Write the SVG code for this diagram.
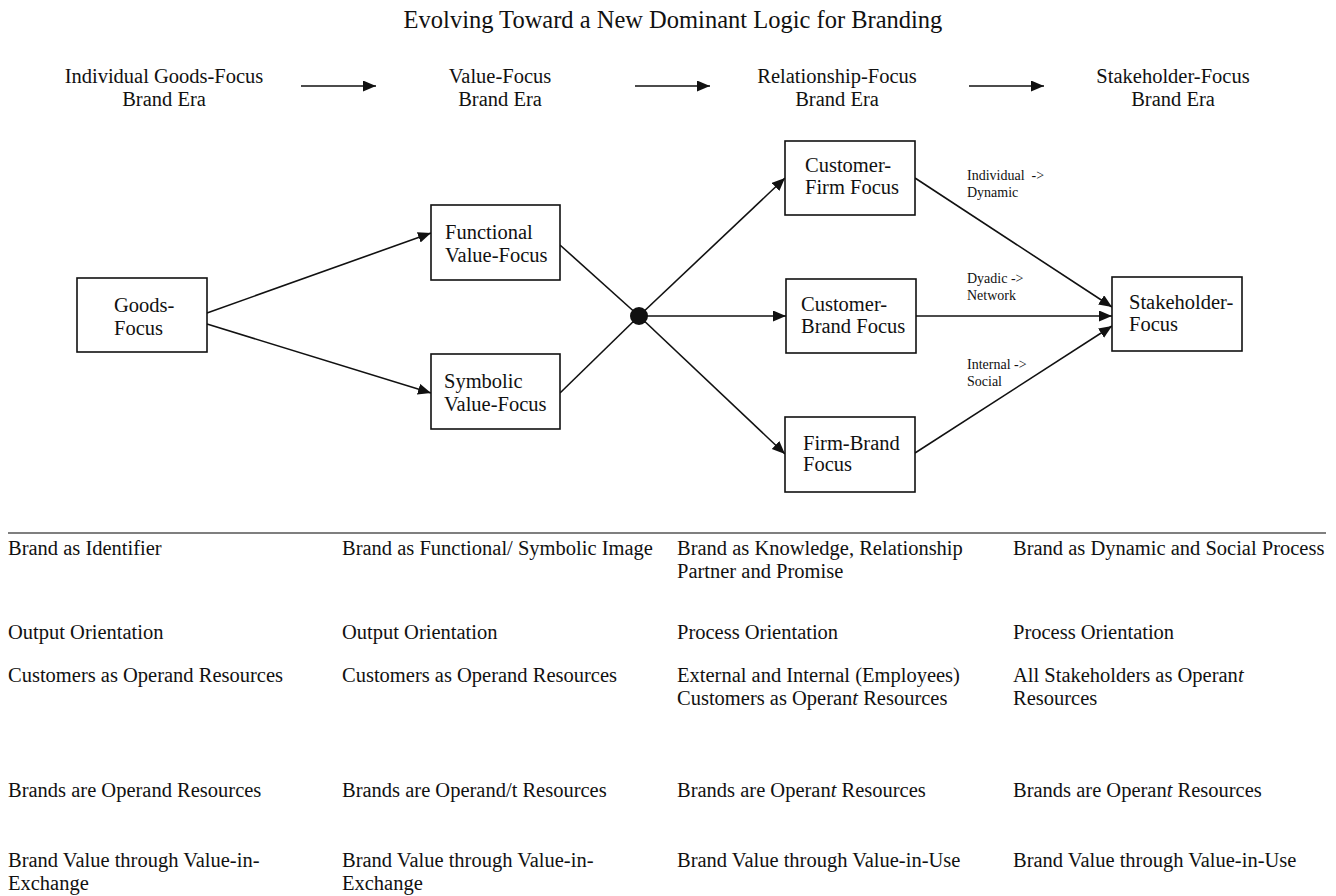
<svg xmlns="http://www.w3.org/2000/svg" width="1336" height="896" viewBox="0 0 1336 896">
<defs>
<style>
text{font-family:"Liberation Serif","Times New Roman",serif;fill:#111;}
.t{font-size:24.5px;}
.n{font-size:20.5px;}
.s{font-size:14px;}
.box{fill:#fff;stroke:#111;stroke-width:1.6;}
.c{stroke:#111;stroke-width:1.6;fill:none;}
.i{font-style:italic;}
</style>
<marker id="ah" markerUnits="userSpaceOnUse" markerWidth="14" markerHeight="12" refX="13" refY="5.5" orient="auto">
<path d="M0,0 L13,5.5 L0,11 Z" fill="#111"/>
</marker>
</defs>
<rect width="1336" height="896" fill="#fff"/>
<text class="t" x="673" y="28" text-anchor="middle">Evolving Toward a New Dominant Logic for Branding</text>

<g id="eras" text-anchor="middle">
<text class="n" x="164" y="83">Individual Goods-Focus</text>
<text class="n" x="164" y="106">Brand Era</text>
<text class="n" x="500" y="83">Value-Focus</text>
<text class="n" x="500" y="106">Brand Era</text>
<text class="n" x="837" y="83">Relationship-Focus</text>
<text class="n" x="837" y="106">Brand Era</text>
<text class="n" x="1173" y="83">Stakeholder-Focus</text>
<text class="n" x="1173" y="106">Brand Era</text>
</g>

<g id="connectors">
<line class="c" x1="301" y1="86" x2="376" y2="86" stroke-width="2" marker-end="url(#ah)"/>
<line class="c" x1="635" y1="86" x2="710" y2="86" stroke-width="2" marker-end="url(#ah)"/>
<line class="c" x1="969" y1="86" x2="1044" y2="86" stroke-width="2" marker-end="url(#ah)"/>
<line class="c" x1="207" y1="313" x2="431" y2="233" marker-end="url(#ah)"/>
<line class="c" x1="207" y1="324" x2="431" y2="393" marker-end="url(#ah)"/>
<line class="c" x1="560" y1="245" x2="639" y2="316"/>
<line class="c" x1="560" y1="393" x2="639" y2="316"/>
<line class="c" x1="639" y1="316" x2="785" y2="178" marker-end="url(#ah)"/>
<line class="c" x1="639" y1="316" x2="786" y2="316" marker-end="url(#ah)"/>
<line class="c" x1="639" y1="316" x2="785" y2="454" marker-end="url(#ah)"/>
<line class="c" x1="915" y1="178" x2="1112" y2="307" marker-end="url(#ah)"/>
<line class="c" x1="916" y1="316" x2="1112" y2="316" marker-end="url(#ah)"/>
<line class="c" x1="915" y1="453" x2="1112" y2="326" marker-end="url(#ah)"/>
<circle cx="639" cy="316" r="9" fill="#111"/>
</g>

<g id="goods">
<rect class="box" x="77" y="278" width="130" height="74"/>
<text class="n" x="114" y="312">Goods-</text>
<text class="n" x="114" y="335">Focus</text>
</g>
<g id="functional">
<rect class="box" x="431" y="205" width="129" height="75"/>
<text class="n" x="445" y="239">Functional</text>
<text class="n" x="445" y="262">Value-Focus</text>
</g>
<g id="symbolic">
<rect class="box" x="431" y="354" width="129" height="75"/>
<text class="n" x="444" y="388">Symbolic</text>
<text class="n" x="444" y="411">Value-Focus</text>
</g>
<g id="customer-firm">
<rect class="box" x="785" y="141" width="130" height="74"/>
<text class="n" x="805" y="172">Customer-</text>
<text class="n" x="805" y="194">Firm Focus</text>
</g>
<g id="customer-brand">
<rect class="box" x="786" y="279" width="130" height="74"/>
<text class="n" x="801" y="311">Customer-</text>
<text class="n" x="801" y="333">Brand Focus</text>
</g>
<g id="firm-brand">
<rect class="box" x="785" y="417" width="130" height="75"/>
<text class="n" x="803" y="450">Firm-Brand</text>
<text class="n" x="803" y="471">Focus</text>
</g>
<g id="stakeholder">
<rect class="box" x="1112" y="277" width="130" height="74"/>
<text class="n" x="1129" y="309">Stakeholder-</text>
<text class="n" x="1129" y="331">Focus</text>
</g>

<g id="edge-labels">
<text class="s" x="967" y="180" xml:space="preserve">Individual  -&gt;</text>
<text class="s" x="967" y="197">Dynamic</text>
<text class="s" x="967" y="283">Dyadic -&gt;</text>
<text class="s" x="967" y="300">Network</text>
<text class="s" x="967" y="369">Internal -&gt;</text>
<text class="s" x="967" y="386">Social</text>
</g>

<line x1="8" y1="533" x2="1326" y2="533" stroke="#555" stroke-width="1.4"/>

<g id="table">
<text class="n" x="8" y="555">Brand as Identifier</text>
<text class="n" x="342" y="555">Brand as Functional/ Symbolic Image</text>
<text class="n" x="677" y="555">Brand as Knowledge, Relationship</text>
<text class="n" x="677" y="578">Partner and Promise</text>
<text class="n" x="1013" y="555">Brand as Dynamic and Social Process</text>

<text class="n" x="8" y="639">Output Orientation</text>
<text class="n" x="342" y="639">Output Orientation</text>
<text class="n" x="677" y="639">Process Orientation</text>
<text class="n" x="1013" y="639">Process Orientation</text>

<text class="n" x="8" y="682">Customers as Operand Resources</text>
<text class="n" x="342" y="682">Customers as Operand Resources</text>
<text class="n" x="677" y="682">External and Internal (Employees)</text>
<text class="n" x="677" y="705">Customers as Operan<tspan class="i">t</tspan> Resources</text>
<text class="n" x="1013" y="682">All Stakeholders as Operan<tspan class="i">t</tspan></text>
<text class="n" x="1013" y="705">Resources</text>

<text class="n" x="8" y="797">Brands are Operand Resources</text>
<text class="n" x="342" y="797">Brands are Operand/t Resources</text>
<text class="n" x="677" y="797">Brands are Operan<tspan class="i">t</tspan> Resources</text>
<text class="n" x="1013" y="797">Brands are Operan<tspan class="i">t</tspan> Resources</text>

<text class="n" x="8" y="867">Brand Value through Value-in-</text>
<text class="n" x="8" y="890">Exchange</text>
<text class="n" x="342" y="867">Brand Value through Value-in-</text>
<text class="n" x="342" y="890">Exchange</text>
<text class="n" x="677" y="867">Brand Value through Value-in-Use</text>
<text class="n" x="1013" y="867">Brand Value through Value-in-Use</text>
</g>
</svg>
